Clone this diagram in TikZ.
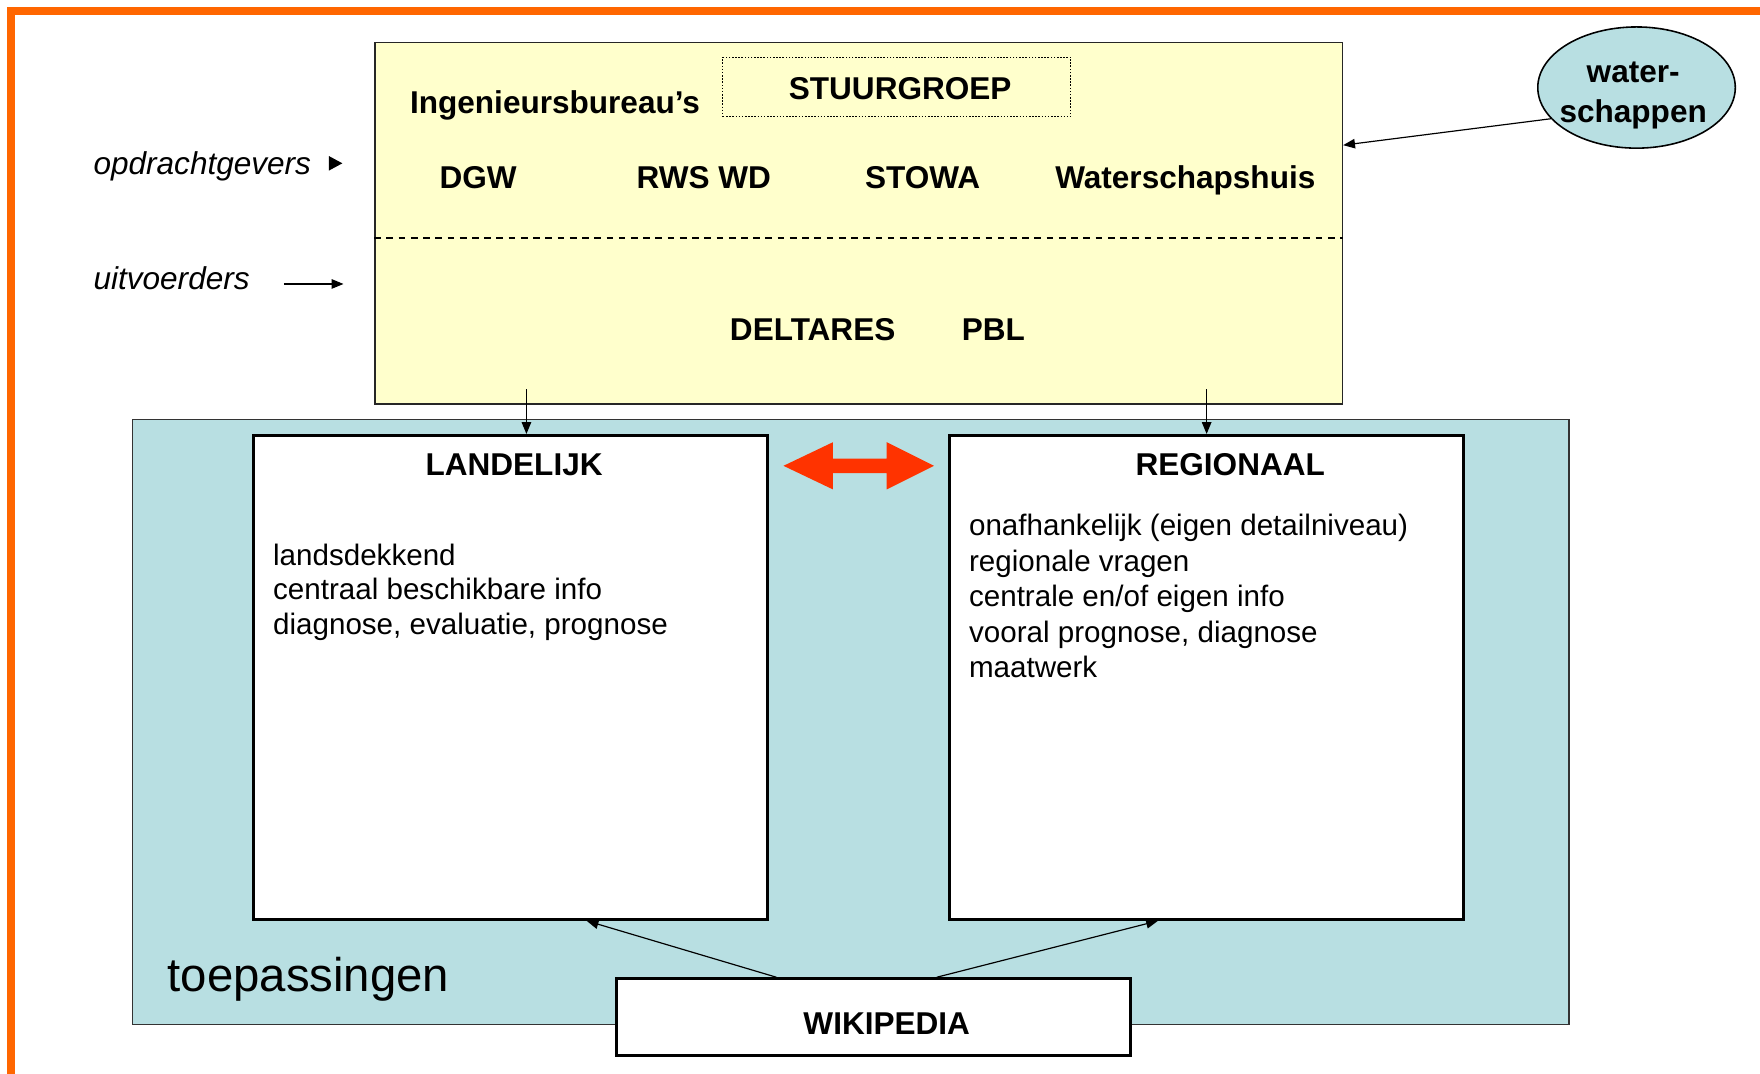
\documentclass[tikz,border=0pt]{standalone}
\usepackage{fontspec}
\setmainfont{Liberation Sans}
\usetikzlibrary{arrows.meta,shapes.geometric,calc}
\definecolor{frameorange}{HTML}{FF6600}
\definecolor{paleyellow}{HTML}{FFFFCC}
\definecolor{paleblue}{HTML}{B8DFE2}
\definecolor{arrowred}{HTML}{FF3300}
\tikzset{
  lbl/.style={font=\fontsize{16}{19}\selectfont\bfseries, inner sep=0pt, anchor=base},
  bodytxt/.style={font=\fontsize{15}{18}\selectfont, inner sep=0pt, anchor=base west},
  ital/.style={font=\fontsize{16}{19}\selectfont\itshape, inner sep=0pt, anchor=west},
  arr/.style={line width=0.6pt, -{Triangle[length=6pt,width=4.8pt]}},
  whitebox/.style={draw, line width=1.6pt, fill=white, inner sep=0pt},
}
\begin{document}
\begin{tikzpicture}[x=0.02cm,y=-0.02cm]
\useasboundingbox (0,0) rectangle (1568,956);
% orange frame
\draw[frameorange, line width=4pt] (9.5,960) -- (9.5,9.5) -- (1572,9.5);
% yellow box
\node[draw=black!85, line width=0.8pt, fill=paleyellow, minimum width=17.24cm, minimum height=6.44cm, inner sep=0pt] (yel) at (765,199) {};
\draw[line width=0.9pt, dash pattern=on 3.4pt off 2.8pt] (yel.west |- 0,212) coordinate (dl) -- (yel.east |- 0,212) coordinate (dr);
\node[draw, line width=0.5pt, dash pattern=on 0.8pt off 0.8pt, minimum width=6.2cm, minimum height=1.06cm, inner sep=0pt] (stuur) at (799,77.5) {};
\node[lbl] (stuurt) at (802,89) {STUURGROEP};
\node[lbl, anchor=base west] (ing) at (365,101) {Ingenieursbureau’s};
\node[lbl] (dgw) at (426,168) {DGW};
\node[lbl] (rws) at (627,168) {RWS WD};
\node[lbl] (stowa) at (822,168) {STOWA};
\node[lbl] (wsh) at (1056,168) {Waterschapshuis};
\node[lbl] (delt) at (724,303) {DELTARES};
\node[lbl] (pbl) at (885,303) {PBL};
% left labels
\node[ital] (opdr) at (83,148) {opdrachtgevers};
\fill (293,139) -- (305,145.5) -- (293,152) -- cycle;
\node[ital] (uitv) at (83,248) {uitvoerders};
\coordinate (ua) at (253,253);
\coordinate (ub) at (306,253);
\draw[arr] (ua) -- (ub);
% waterschappen
\node[draw=black, line width=0.8pt, fill=paleblue, ellipse, minimum width=3.52cm, minimum height=2.16cm, inner sep=0pt] (ws) at (1458,78) {};
\node[inner sep=0pt, align=center, font=\fontsize{16}{20.5}\selectfont\bfseries] (wstext) at ($(ws.center)+(-3,7)$) {water-\\schappen};
\draw[arr] (ws.200) -- ($(yel.north east)+(0,92)$);
% blue application area
\node[draw=black!80, line width=0.6pt, fill=paleblue, minimum width=25.6cm, minimum height=10.78cm, inner sep=0pt] (toep) at (758,643.5) {};
\node[font=\fontsize{24}{28}\selectfont, inner sep=0pt, anchor=west] (toeptxt) at (149,872) {toepassingen};
% white boxes
\node[whitebox, minimum width=9.16cm, minimum height=8.62cm] (land) at (455,603.5) {};
\node[whitebox, minimum width=9.16cm, minimum height=8.62cm] (reg) at (1075,603.5) {};
\node[lbl] (landt) at (458,424) {LANDELIJK};
\node[lbl] (regt) at (1096,424) {REGIONAAL};
\node[bodytxt] (l1) at (243,503.5) {landsdekkend};
\node[bodytxt] (l2) at (243,534.5) {centraal beschikbare info};
\node[bodytxt] (l3) at (243,565.5) {diagnose, evaluatie, prognose};
\node[bodytxt] (r1) at (863,477.5) {onafhankelijk (eigen detailniveau)};
\node[bodytxt] (r2) at (863,509) {regionale vragen};
\node[bodytxt] (r3) at (863,540.5) {centrale en/of eigen info};
\node[bodytxt] (r4) at (863,572) {vooral prognose, diagnose};
\node[bodytxt] (r5) at (863,603.5) {maatwerk};
% red double arrow
\fill[arrowred] (698,415) -- (742,394) -- (742,408.5) -- (790,408.5) -- (790,394) -- (832,415) -- (790,436) -- (790,421.5) -- (742,421.5) -- (742,436) -- cycle;
% arrows from yellow box
\coordinate (d1) at (469,347);
\coordinate (d2) at (1075,347);
\draw[arr] (d1) -- (d1 |- land.north);
\draw[arr] (d2) -- (d2 |- reg.north);
% wikipedia
\node[whitebox, minimum width=9.16cm, minimum height=1.36cm] (wiki) at (778,906) {};
\node[lbl] (wikit) at (790,922) {WIKIPEDIA};
\draw[arr] ($(wiki.north west)+(144,0)$) -- ($(land.south west)+(298,0)$);
\draw[arr] ($(wiki.north west)+(287,0)$) -- ($(reg.south west)+(187,0)$);
\end{tikzpicture}
\end{document}
